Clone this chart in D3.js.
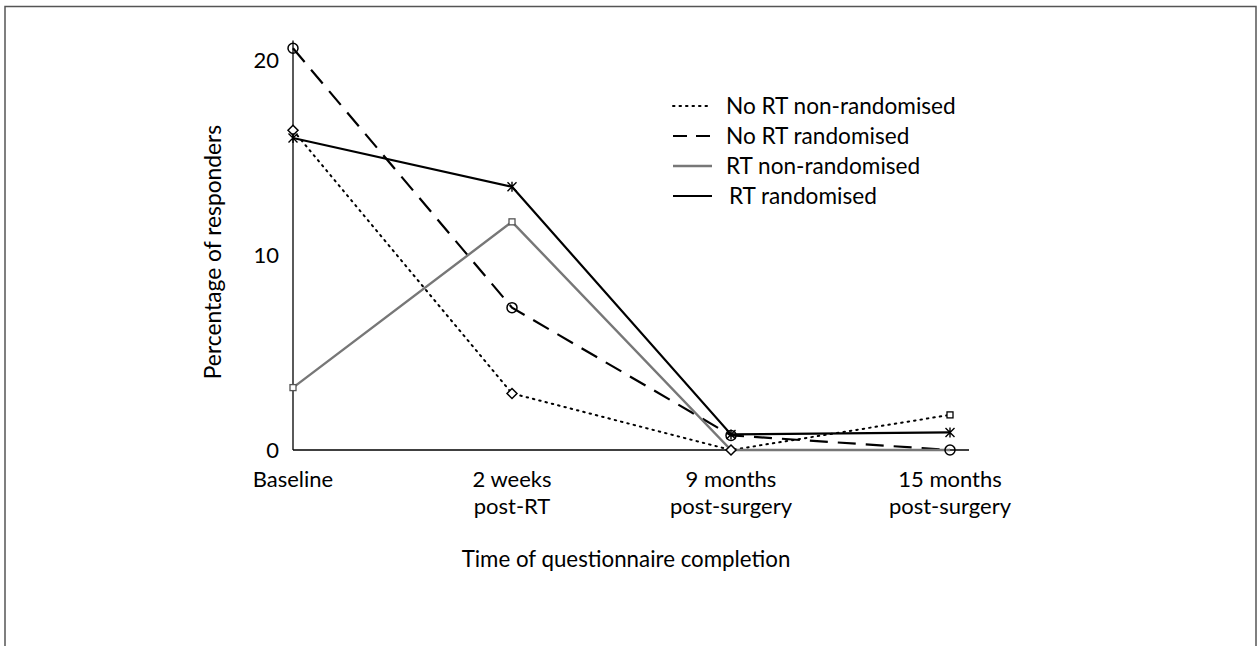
<!DOCTYPE html>
<html><head><meta charset="utf-8">
<script src="https://cdn.jsdelivr.net/npm/d3@7"></script>
<style>body{margin:0;background:#fff}svg{display:block}text{font-family:Lato,"Open Sans",sans-serif;fill:#000}</style>
</head><body><svg id="c" width="1259" height="646"></svg>
<script>
const categories = [["Baseline"], ["2 weeks", "post-RT"], ["9 months", "post-surgery"], ["15 months", "post-surgery"]];
const yTicks = [0, 10, 20];
const seriesNames = ["No RT non-randomised", "No RT randomised", "RT non-randomised", "RT randomised"];
const noRtNonRand = [16.4, 2.9, 0, 1.8];
const noRtRand = [20.6, 7.3, 0.75, 0];
const rtNonRand = [3.2, 11.7, 0, 0];
const rtRand = [16.0, 13.5, 0.8, 0.9];

const svg = d3.select("#c");
const x = d3.scalePoint().domain(d3.range(categories.length)).range([293, 950]);
const y = d3.scaleLinear().domain([0, 21]).range([450, 40.5]);

// frame
svg.append("rect").attr("x", 5).attr("y", 6.5).attr("width", 1251).attr("height", 700)
  .attr("fill", "none").attr("stroke", "#555").attr("stroke-width", 1.5);

// axes
svg.append("line").attr("x1", 293).attr("x2", 293).attr("y1", y(21)).attr("y2", y(0)).attr("stroke", "#000").attr("stroke-width", 1.3);
svg.append("line").attr("x1", 293).attr("x2", 969).attr("y1", y(0)).attr("y2", y(0)).attr("stroke", "#000").attr("stroke-width", 1.3);

svg.selectAll(".yt").data(yTicks).join("text").attr("class", "yt")
  .attr("x", 279).attr("y", d => y(d)).attr("dy", "0.35em").attr("text-anchor", "end")
  .attr("font-size", 22).text(d => d);

const xl = svg.selectAll(".xt").data(categories).join("text").attr("class", "xt")
  .attr("text-anchor", "middle").attr("font-size", 22);
xl.each(function(d, i) {
  d3.select(this).selectAll("tspan").data(d).join("tspan")
    .attr("x", x(i)).attr("y", (t, j) => 487 + j * 27).text(t => t);
});

svg.append("text").attr("x", 626).attr("y", 567).attr("text-anchor", "middle").attr("font-size", 22.3)
  .text("Time of questionnaire completion");
svg.append("text").attr("transform", "translate(221,252) rotate(-90)").attr("text-anchor", "middle")
  .attr("font-size", 22.8).text("Percentage of responders");

const series = [
  {name: seriesNames[0], values: noRtNonRand, color: "#000", dash: "1.5,5", width: 2, cap: "round", marker: ["diamond", "diamond", "diamond", "square"]},
  {name: seriesNames[1], values: noRtRand, color: "#000", dash: "18,10", width: 2.2, cap: "butt", marker: ["circle", "circle", "circle", "circle"]},
  {name: seriesNames[2], values: rtNonRand, color: "#777", dash: null, width: 2.4, cap: "butt", marker: ["square", "square", "none", "none"]},
  {name: seriesNames[3], values: rtRand, color: "#000", dash: null, width: 2.2, cap: "butt", marker: ["star", "star", "star", "star"]}
];

const line = d3.line().x((d, i) => x(i)).y(d => y(d));

series.forEach(s => {
  svg.append("path").datum(s.values).attr("d", line).attr("fill", "none")
    .attr("stroke", s.color).attr("stroke-width", s.width)
    .attr("stroke-dasharray", s.dash).attr("stroke-linecap", s.cap);
});

function drawMarker(g, type, cx, cy, color) {
  if (type === "circle") {
    g.append("circle").attr("cx", cx).attr("cy", cy).attr("r", 5).attr("fill", "none").attr("stroke", color).attr("stroke-width", 1.5);
  } else if (type === "diamond") {
    g.append("path").attr("d", `M${cx},${cy-5}L${cx+5},${cy}L${cx},${cy+5}L${cx-5},${cy}Z`)
      .attr("fill", "#fff").attr("stroke", color).attr("stroke-width", 1.5);
  } else if (type === "square") {
    g.append("rect").attr("x", cx-3).attr("y", cy-3).attr("width", 6).attr("height", 6)
      .attr("fill", "#fff").attr("stroke", color).attr("stroke-width", 1.3);
  } else if (type === "star") {
    g.append("path").attr("d", `M${cx-4.5},${cy-4.5}L${cx+4.5},${cy+4.5}M${cx-4.5},${cy+4.5}L${cx+4.5},${cy-4.5}M${cx},${cy-5}L${cx},${cy+5}`)
      .attr("stroke", color).attr("stroke-width", 1.4);
  }
}
series.forEach(s => {
  const g = svg.append("g");
  s.values.forEach((v, i) => drawMarker(g, s.marker[i], x(i), y(v), s.color === "#777" ? "#555" : "#000"));
});

// legend
const lg = svg.append("g");
series.forEach((s, i) => {
  const yy = 106 + i * 30;
  lg.append("line").attr("x1", 673).attr("x2", 712).attr("y1", yy).attr("y2", yy)
    .attr("stroke", s.color).attr("stroke-width", s.width).attr("stroke-dasharray", s.dash ? (i === 0 ? "1.5,5" : "14,9") : null)
    .attr("stroke-linecap", s.cap);
  lg.append("text").attr("x", i === 3 ? 729 : 726).attr("y", yy).attr("dy", "0.35em").attr("font-size", 22.6).text(s.name);
});
</script></body></html>
